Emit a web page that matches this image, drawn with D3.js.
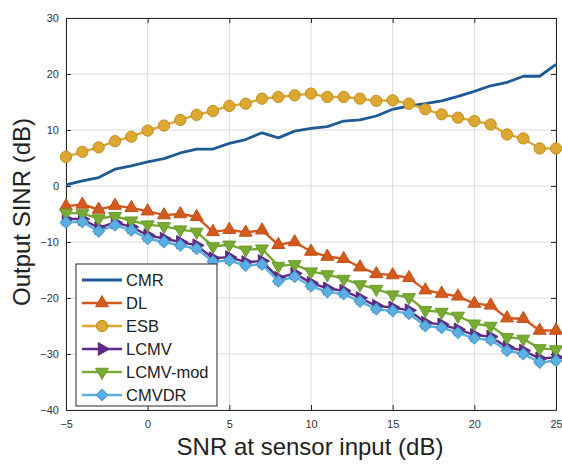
<!DOCTYPE html>
<html>
<head>
<meta charset="utf-8">
<script src="https://cdn.jsdelivr.net/npm/d3@7"></script>
<style>
  body { margin: 0; background: #fff; }
  svg { font-family: "Liberation Sans", Arial, sans-serif; }
</style>
</head>
<body>
<div id="chart"></div>
<script>
// SNR at sensor input (dB)
const snr = d3.range(-5, 26, 1)

const cmr = [0.2, 0.9, 1.5, 3.0, 3.6, 4.3, 4.9, 5.9, 6.6, 6.6, 7.6, 8.3, 9.5, 8.6, 9.8, 10.3,
  10.6, 11.6, 11.8, 12.5, 13.7, 14.3, 14.7, 15.2, 16.0, 16.9, 17.9, 18.5, 19.6, 19.6, 21.7]
const dl = [-3.6, -3.3, -4.2, -3.5, -3.9, -4.5, -5.2, -5.0, -5.5, -8.2, -7.8, -8.3, -7.9, -10.5, -10.0, -11.7,
  -12.6, -13.0, -14.5, -15.7, -15.9, -16.4, -18.6, -19.2, -19.7, -21.0, -21.3, -23.6, -23.7, -25.8, -25.8]
const esb = [5.2, 6.1, 6.9, 8.0, 8.8, 9.9, 10.8, 11.8, 12.7, 13.4, 14.3, 14.7, 15.6, 15.9, 16.2, 16.5,
  15.9, 15.9, 15.6, 15.2, 15.3, 14.7, 13.7, 12.8, 12.2, 11.6, 11.0, 9.2, 8.5, 6.7, 6.7]
const lcmv = [-5.9, -5.9, -7.5, -6.5, -7.3, -8.8, -9.4, -10.0, -10.6, -12.9, -12.7, -13.6, -13.4, -16.4, -15.6, -17.3,
  -18.3, -18.7, -20.0, -21.4, -21.7, -22.2, -24.4, -24.7, -25.6, -26.6, -26.9, -28.8, -29.4, -30.8, -30.6]
const lcmvMod = [-4.8, -4.9, -5.8, -5.4, -6.2, -6.9, -7.2, -7.8, -8.2, -10.8, -10.5, -11.4, -11.2, -14.3, -14.0, -15.3,
  -15.8, -16.6, -17.6, -18.4, -19.4, -19.9, -22.2, -22.5, -23.2, -24.6, -25.0, -27.0, -27.3, -29.0, -29.2]
const cmvdr = [-6.5, -6.4, -8.1, -7.0, -7.9, -9.4, -10.0, -10.6, -11.2, -13.5, -13.3, -14.2, -14.0, -17.0, -16.2, -17.9,
  -18.9, -19.3, -20.6, -22.0, -22.3, -22.8, -25.0, -25.3, -26.2, -27.2, -27.5, -29.4, -30.0, -31.5, -31.2]

const xTicks = [-5, 0, 5, 10, 15, 20, 25]
const yTicks = [-40, -30, -20, -10, 0, 10, 20, 30]

const series = [
  { name: "CMR", values: cmr, color: "#1f5a94", marker: null, width: 2.8 },
  { name: "DL", values: dl, color: "#d35a1e", edge: "#c44f15", marker: "up", width: 2.4 },
  { name: "ESB", values: esb, color: "#dca832", edge: "#bf8e22", marker: "circle", width: 2.4 },
  { name: "LCMV", values: lcmv, color: "#5e2a86", marker: "right", width: 2.4 },
  { name: "LCMV-mod", values: lcmvMod, color: "#77ab33", edge: "#6a9c2a", marker: "down", width: 2.4 },
  { name: "CMVDR", values: cmvdr, color: "#5cafe2", edge: "#4b9cd0", marker: "diamond", width: 2.4 }
]

const WIDTH = 562, HEIGHT = 464
const MARGIN = { top: 18, right: 6, bottom: 54, left: 66 }
const innerW = WIDTH - MARGIN.left - MARGIN.right
const innerH = HEIGHT - MARGIN.top - MARGIN.bottom

const svg = d3.select("#chart").append("svg")
  .attr("width", WIDTH)
  .attr("height", HEIGHT)

const g = svg.append("g")
  .attr("transform", `translate(${MARGIN.left},${MARGIN.top})`)

const x = d3.scaleLinear().domain([-5, 25]).range([0, innerW])
const y = d3.scaleLinear().domain([-40, 30]).range([innerH, 0])

// grid
g.append("g").selectAll("line").data(xTicks).join("line")
  .attr("x1", d => x(d)).attr("x2", d => x(d))
  .attr("y1", 0).attr("y2", innerH)
  .attr("stroke", "#dcdcdc").attr("stroke-width", 1)
g.append("g").selectAll("line").data(yTicks).join("line")
  .attr("x1", 0).attr("x2", innerW)
  .attr("y1", d => y(d)).attr("y2", d => y(d))
  .attr("stroke", "#dcdcdc").attr("stroke-width", 1)

// axes, ticks pointing inward like matlab
const xAxisCall = d3.axisBottom(x).tickValues(xTicks).tickSizeInner(-5).tickSizeOuter(0).tickPadding(10)
const yAxisCall = d3.axisLeft(y).tickValues(yTicks).tickSizeInner(-5).tickSizeOuter(0).tickPadding(7)

g.append("g")
  .attr("transform", `translate(0,${innerH})`)
  .call(xAxisCall)
g.append("g").call(yAxisCall)

g.append("g")
  .call(d3.axisTop(x).tickValues(xTicks).tickSizeInner(-5).tickSizeOuter(0).tickFormat(""))
g.append("g").attr("transform", `translate(${innerW},0)`)
  .call(d3.axisRight(y).tickValues(yTicks).tickSizeInner(-5).tickSizeOuter(0).tickFormat(""))

g.selectAll(".domain").attr("stroke", "#262626").attr("stroke-width", 1)
g.selectAll(".tick line").attr("stroke", "#262626")
g.selectAll(".tick text").attr("font-size", "11px").attr("fill", "#333")

// axis titles
svg.append("text")
  .attr("x", 310)
  .attr("y", 455)
  .attr("text-anchor", "middle")
  .attr("font-size", "24px")
  .attr("fill", "#222")
  .text("SNR at sensor input (dB)")

svg.append("text")
  .attr("transform", "translate(30,212) rotate(-90)")
  .attr("text-anchor", "middle")
  .attr("font-size", "24px")
  .attr("fill", "#222")
  .text("Output SINR (dB)")

// markers
const symbolFor = {
  up: { type: d3.symbolTriangle, size: 72, rotate: 0 },
  down: { type: d3.symbolTriangle, size: 72, rotate: 180 },
  right: { type: d3.symbolTriangle, size: 72, rotate: 90 },
  circle: { type: d3.symbolCircle, size: 100, rotate: 0 },
  diamond: { type: d3.symbolSquare, size: 68, rotate: 45 }
}

const line = d3.line()
  .x((d, i) => x(snr[i]))
  .y(d => y(d))

const plot = g.append("g")

series.forEach(s => {
  const sg = plot.append("g")
  sg.append("path")
    .attr("d", line(s.values))
    .attr("fill", "none")
    .attr("stroke", s.color)
    .attr("stroke-width", s.width)
    .attr("stroke-linejoin", "round")

  if (s.marker) {
    const sym = symbolFor[s.marker]
    sg.selectAll("path.marker").data(s.values).join("path")
      .attr("class", "marker")
      .attr("d", d3.symbol().type(sym.type).size(sym.size))
      .attr("transform", (d, i) => `translate(${x(snr[i])},${y(d)}) rotate(${sym.rotate})`)
      .attr("fill", s.color)
      .attr("stroke", s.edge || s.color)
      .attr("stroke-width", 1)
  }
})

// legend
const legend = g.append("g").attr("transform", "translate(10,246)")
legend.append("rect")
  .attr("width", 141).attr("height", 142)
  .attr("fill", "#fff")
  .attr("stroke", "#262626")
  .attr("stroke-width", 1)

series.forEach((s, i) => {
  const ly = 16 + i * 23
  const row = legend.append("g").attr("transform", `translate(0,${ly})`)
  row.append("line")
    .attr("x1", 6).attr("x2", 46)
    .attr("stroke", s.color).attr("stroke-width", s.width)
  if (s.marker) {
    const sym = symbolFor[s.marker]
    row.append("path")
      .attr("d", d3.symbol().type(sym.type).size(sym.size)())
      .attr("transform", `translate(26,0) rotate(${sym.rotate})`)
      .attr("fill", s.color)
      .attr("stroke", s.edge || s.color)
  }
  row.append("text")
    .attr("x", 50).attr("y", 6)
    .attr("font-size", "16.5px")
    .attr("fill", "#222")
    .text(s.name)
})
</script>
</body>
</html>
